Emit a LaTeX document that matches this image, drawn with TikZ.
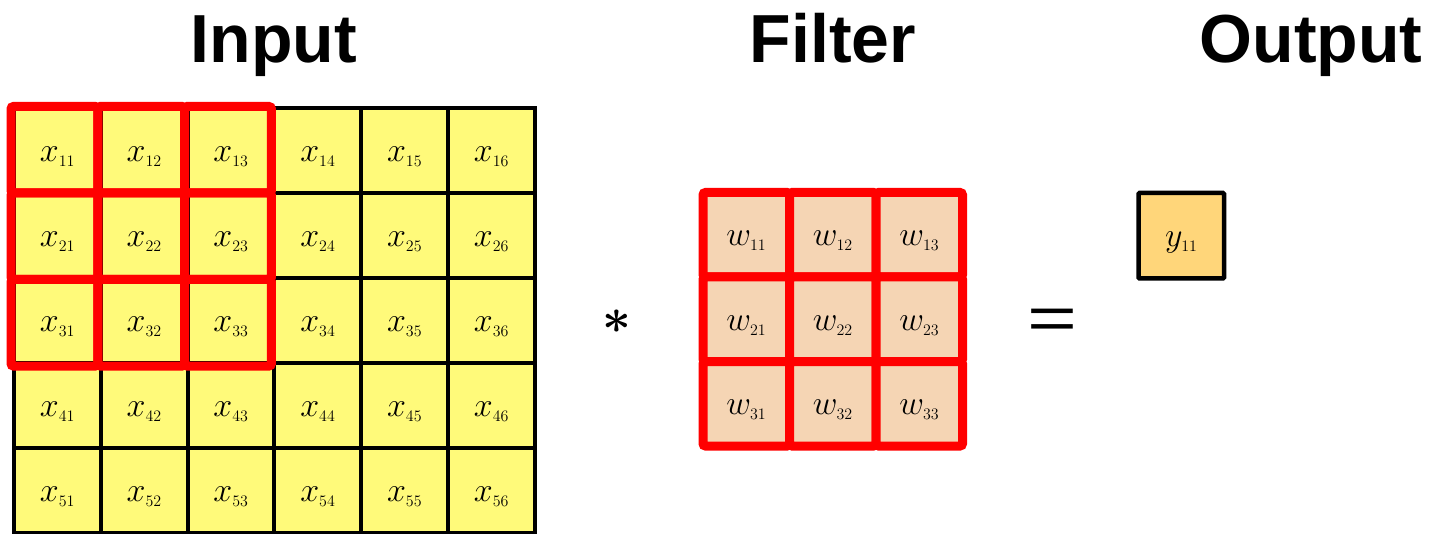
\RequirePackage{fix-cm}
\documentclass[tikz,border=0pt]{standalone}
\usepackage{fontspec}
\setsansfont{Liberation Sans}
\DeclareMathSizes{34}{34}{16}{11}
\definecolor{inputfill}{RGB}{255,250,122}
\definecolor{filterfill}{RGB}{245,213,180}
\definecolor{outputfill}{RGB}{255,214,122}
\definecolor{framered}{RGB}{255,0,0}
\begin{document}
\begin{tikzpicture}[x=1pt,y=-1pt,
  incell/.style={draw=black, line width=4pt, fill=inputfill,
    minimum width=86.8pt, minimum height=85pt, inner sep=0pt},
  fcell/.style={draw=framered, line width=9pt, fill=filterfill, rounded corners=2.5pt,
    minimum width=86.5pt, minimum height=84.5pt, inner sep=0pt},
  ocell/.style={draw=black, line width=4.5pt, fill=outputfill, rounded corners=1pt,
    minimum width=85.5pt, minimum height=85.5pt, inner sep=0pt},
  redcell/.style={draw=framered, line width=9pt, rounded corners=2.5pt},
  celltext/.style={font=\fontsize{34}{40}\selectfont, inner sep=0pt, anchor=base},
  title/.style={font=\sffamily\bfseries\fontsize{68}{80}\selectfont, inner sep=0pt, anchor=base},
  opsign/.style={inner sep=0pt}]
\useasboundingbox (0,0) rectangle (1431,534);

% titles
\node[title] (tin)  at (274,63)  {Input};
\node[title] (tfil) at (833,63)  {Filter};
\node[title] (tout) at (1311,63) {Output};

% input matrix 5 x 6
\foreach \r in {1,...,5}
  \foreach \c in {1,...,6} {
    \node[incell] (x\r\c) at ({14+86.8*(\c-0.5)}, {108+85*(\r-0.5)}) {};
    \node[celltext] (lx\r\c) at ([yshift=-11pt]x\r\c.center) {$x_{\r\c}$};
  }

% red window over the top-left 3 x 3 block
\foreach \r in {1,2,3}
  \foreach \c in {1,2,3}
    \draw[redcell] ({11+86.8*(\c-1)}, {106.5+86.5*(\r-1)}) rectangle ({11+86.8*\c}, {106.5+86.5*\r});

% convolution sign
\node[opsign, font=\fontsize{50}{60}\selectfont\boldmath] (conv) at (617,322) {$\ast$};

% filter 3 x 3
\foreach \r in {1,2,3}
  \foreach \c in {1,2,3} {
    \node[fcell] (w\r\c) at ({703+86.5*(\c-0.5)}, {192.5+84.5*(\r-0.5)}) {};
    \node[celltext] (lw\r\c) at ([yshift=-11pt]w\r\c.center) {$w_{\r\c}$};
  }

% equals sign
\node[opsign, anchor=base, font=\sffamily\fontsize{62}{70}\selectfont] (eq) at (1052,339) {\scalebox{1.38}[1]{=}};

% output
\node[ocell] (y11) at (1181.25,235.75) {};
\node[celltext] (ly11) at ([yshift=-11pt]y11.center) {$y_{11}$};
\end{tikzpicture}
\end{document}
